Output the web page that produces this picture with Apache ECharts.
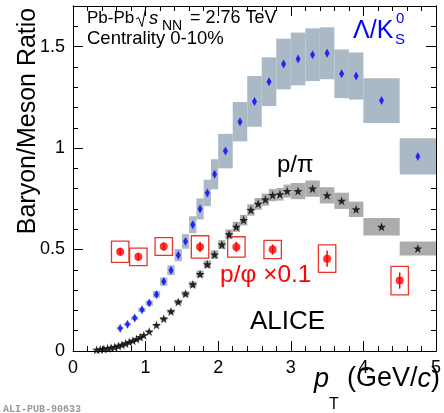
<!DOCTYPE html>
<html><head><meta charset="utf-8">
<script src="https://cdn.jsdelivr.net/npm/echarts@6/dist/echarts.min.js"></script>
<style>html,body{margin:0;padding:0;background:#fff}#c{width:444px;height:413px}</style>
</head><body><div id="c"></div>
<script>
// Lambda/K0S
const lamX = [0.65,0.75,0.85,0.95,1.05,1.15,1.25,1.35,1.45,1.55,1.65,1.75,1.85,1.95,2.1,2.3,2.5,2.7,2.9,3.1,3.3,3.5,3.7,3.9,4.25,4.75];
const lamHalfBin = [0.05,0.05,0.05,0.05,0.05,0.05,0.05,0.05,0.05,0.05,0.05,0.05,0.05,0.05,0.1,0.1,0.1,0.1,0.1,0.1,0.1,0.1,0.1,0.1,0.25,0.25];
const lamY = [0.112,0.132,0.162,0.203,0.236,0.279,0.342,0.398,0.472,0.540,0.622,0.700,0.779,0.871,0.985,1.130,1.230,1.327,1.414,1.439,1.460,1.467,1.366,1.355,1.234,0.959];
const lamSys = [0.006,0.007,0.009,0.011,0.013,0.016,0.020,0.024,0.030,0.036,0.042,0.052,0.065,0.074,0.085,0.097,0.125,0.120,0.125,0.130,0.130,0.128,0.120,0.116,0.110,0.089];
// p/pi
const piX = [0.325,0.375,0.425,0.475,0.525,0.575,0.625,0.675,0.725,0.775,0.825,0.875,0.925,0.975,
  1.05,1.15,1.25,1.35,1.45,1.55,1.65,1.75,1.85,1.95,2.05,2.15,2.25,2.35,2.45,2.55,2.65,2.75,2.85,2.95,
  3.1,3.3,3.5,3.7,3.9,4.25,4.75];
const piHalfBin = [0.025,0.025,0.025,0.025,0.025,0.025,0.025,0.025,0.025,0.025,0.025,0.025,0.025,0.025,
  0.05,0.05,0.05,0.05,0.05,0.05,0.05,0.05,0.05,0.05,0.05,0.05,0.05,0.05,0.05,0.05,0.05,0.05,0.05,0.05,
  0.1,0.1,0.1,0.1,0.1,0.25,0.25];
const piY = [0.006,0.008,0.010,0.013,0.016,0.020,0.025,0.031,0.037,0.044,0.051,0.059,0.068,0.078,
  0.096,0.128,0.159,0.195,0.242,0.282,0.328,0.379,0.427,0.475,0.524,0.575,0.612,0.645,0.695,0.725,0.746,0.768,0.772,0.788,
  0.788,0.800,0.767,0.740,0.698,0.612,0.505];
const piSys = [0.001,0.001,0.001,0.001,0.001,0.001,0.002,0.002,0.002,0.003,0.003,0.003,0.004,0.004,
  0.005,0.006,0.008,0.009,0.011,0.013,0.015,0.017,0.019,0.021,0.022,0.024,0.025,0.026,0.028,0.029,0.030,0.030,0.031,0.032,
  0.040,0.040,0.040,0.040,0.038,0.043,0.035];
// p/phi x 0.1
const phiX = [0.65,0.9,1.25,1.75,2.25,2.75,3.5,4.5];
const phiHalfBin = [0.12,0.12,0.12,0.12,0.12,0.12,0.12,0.12];
const phiY = [0.489,0.464,0.515,0.513,0.513,0.500,0.455,0.347];
const phiStat = [0.02,0.02,0.02,0.025,0.025,0.025,0.04,0.04];
const phiSys = [0.052,0.043,0.044,0.055,0.050,0.045,0.068,0.070];

const xTicks = [0,1,2,3,4,5];
const yTicks = [0,0.5,1,1.5];

const FONT = "'Liberation Sans', Arial, Helvetica, sans-serif";
const STAR = 'path://M0,-10L2.35,-3.24L9.51,-3.09L3.8,1.24L5.88,8.09L0,4L-5.88,8.09L-3.8,1.24L-9.51,-3.09L-2.35,-3.24Z';

function zip4(a,b,c,d){return a.map((v,i)=>[v,b[i],c[i],d[i]]);}
function boxRender(fill, stroke, lw){
  return function(params, api){
    const x=api.value(0), y=api.value(1), hw=api.value(2), hs=api.value(3);
    const p0=api.coord([x-hw,y+hs]), p1=api.coord([x+hw,y-hs]);
    return {type:'rect', shape:{x:p0[0],y:p0[1],width:p1[0]-p0[0],height:p1[1]-p0[1]},
      style:{fill:fill, stroke:stroke, lineWidth:lw}};
  };
}
function errRender(color){
  return function(params, api){
    const x=api.value(0), y=api.value(1), e=api.value(2);
    const a=api.coord([x,y-e]), b=api.coord([x,y+e]);
    return {type:'line', shape:{x1:a[0],y1:a[1],x2:b[0],y2:b[1]}, style:{stroke:color,lineWidth:1.5}};
  };
}

const xMin=xTicks[0], xMax=xTicks[xTicks.length-1];
const yMin=yTicks[0], yMax=1.7;
const lineStyle={color:'#000',width:1};
function xAx(pos, labels){
  return {type:'value', position:pos, min:xMin, max:xMax, interval:1,
    axisLine:{show:true,onZero:false,lineStyle},
    axisTick:{show:true,inside:true,length:10,lineStyle},
    minorTick:{show:true,splitNumber:5,length:5,lineStyle},
    axisLabel:{show:labels,margin:8,fontSize:18,color:'#000',fontFamily:FONT},
    splitLine:{show:false}, minorSplitLine:{show:false}};
}
function yAx(pos, labels, interval, len){
  return {type:'value', position:pos, min:yMin, max:yMax, interval:interval, offset:0,
    axisLine:{show:true,onZero:false,lineStyle},
    axisTick:{show:true,inside:true,length:len,lineStyle},
    axisLabel:{show:labels,margin:8,fontSize:18,color:'#000',fontFamily:FONT,showMaxLabel:false,
      formatter:v=>String(v)},
    splitLine:{show:false}};
}
function txt(x,y,text,font,fill,extra){
  return Object.assign({type:'text', x:x, y:y, style:Object.assign({text:text, font:font+' '+FONT, fill:fill,
    textVerticalAlign:'middle', verticalAlign:'middle'}, extra||{})});
}

const option = {
  animation:false,
  backgroundColor:'#fff',
  grid:{left:73,right:5,top:6,bottom:62},
  xAxis:[xAx('bottom',true), xAx('top',false)],
  yAxis:[yAx('left',true,0.5,10), yAx('right',false,0.5,10), yAx('left',false,0.1,5), yAx('right',false,0.1,5)],
  series:[
    {type:'custom', name:'lamSys', renderItem:boxRender('#aab9c5',null,0), data:zip4(lamX,lamY,lamHalfBin,lamSys), encode:{x:0,y:1}, z:1},
    {type:'custom', name:'piSys', renderItem:boxRender('#acacac',null,0), data:zip4(piX,piY,piHalfBin,piSys), encode:{x:0,y:1}, z:1},
    {type:'custom', name:'phiSys', renderItem:boxRender(null,'#e8372f',1.3), data:zip4(phiX,phiY,phiHalfBin,phiSys), encode:{x:0,y:1}, z:3},
    {type:'custom', name:'phiStat', renderItem:errRender('#f00'), data:phiX.map((v,i)=>[v,phiY[i],phiStat[i]]), encode:{x:0,y:1}, z:4},
    {type:'scatter', name:'lam', symbol:'diamond', symbolSize:[5,9], itemStyle:{color:'#0000ff'}, data:lamX.map((v,i)=>[v,lamY[i]]), z:5},
    {type:'scatter', name:'pi', symbol:STAR, symbolSize:9, itemStyle:{color:'#000'}, data:piX.map((v,i)=>[v,piY[i]]), z:5},
    {type:'scatter', name:'phi', symbol:'circle', symbolSize:8, itemStyle:{color:'#f00'}, data:phiX.map((v,i)=>[v,phiY[i]]), z:5}
  ],
  graphic:[
    txt(87,18.5,'Pb-Pb','17px','#000'),
    {type:'polyline', shape:{points:[[136,19],[138.5,17.5],[142,26.5],[146,6.5],[185,6.5]]}, style:{stroke:'#000',lineWidth:1,fill:null}},
    txt(149,18.5,'s','italic 18.5px','#000'),
    txt(162,26,'NN','14px','#000'),
    txt(190,18.5,'= 2.76 TeV','18px','#000'),
    txt(87,38.5,'Centrality 0-10%','18.5px','#000'),
    txt(353,31.5,'Λ/K','25px','#0000ff'),
    txt(396,19,'0','15px','#0000ff'),
    txt(395,40,'S','15px','#0000ff'),
    txt(277,165,'p/π','24px','#000'),
    txt(220,275,'p/φ ×0.1','24.5px','#f00'),
    txt(250,322,'ALICE','26px','#000'),
    {type:'text', x:28, y:121, rotation:Math.PI/2, style:{text:'Baryon/Meson Ratio', font:'25px '+FONT, fill:'#000', textAlign:'center', align:'center', textVerticalAlign:'middle', verticalAlign:'middle'}},
    txt(314,379,'p','italic 27px','#000'),
    txt(329,405,'T','16px','#000'),
    txt(440,379,'(GeV/{i|c})','27px','#000',{textAlign:'right', align:'right', rich:{i:{font:'italic 27px '+FONT, fill:'#000'}}}),
    {type:'text', x:3, y:409, style:{text:'ALI-PUB-90633', font:'bold 10px "Liberation Mono", monospace', fill:'#9a9a9a', textVerticalAlign:'middle', verticalAlign:'middle'}}
  ]
};
const chart = echarts.init(document.getElementById('c'), null, {renderer:'canvas'});
chart.setOption(option);
</script></body></html>
